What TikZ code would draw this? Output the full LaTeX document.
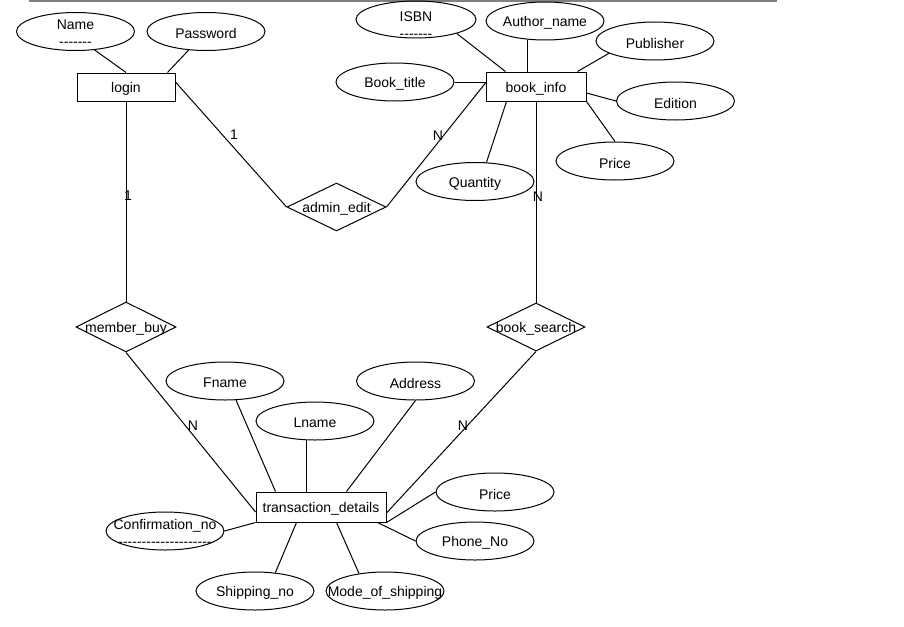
\documentclass[tikz,border=0pt]{standalone}
\usepackage{fontspec}
\setmainfont{Liberation Sans}
\usetikzlibrary{shapes.geometric,calc}
\newcommand\hy{\hbox{-}}
\begin{document}
\begin{tikzpicture}[x=1pt,y=-1pt,
  every node/.style={font=\fontsize{14}{17}\selectfont},
  every label/.style={inner sep=0pt, align=center, yshift=-2pt},
  attrshape/.style={ellipse, draw, line width=1pt, minimum width=118pt, minimum height=38pt, inner sep=0pt},
  attr/.style={attrshape, label={center:{#1}}},
  ent/.style={rectangle, draw, line width=1pt, inner sep=0pt, label={center:{#1}}},
  rel/.style={diamond, draw, line width=1pt, inner sep=0pt, label={center:{#1}}},
  conn/.style={line width=1pt},
  card/.style={inner sep=0pt, yshift=-2pt}]
\fill[white] (0,0) rectangle (904,626);
\useasboundingbox (0,0) rectangle (904,626);
\draw[black!50, line width=2pt] (29,1) -- (777,1);

% entities
\node[ent=login, minimum width=98pt, minimum height=28pt] (login) at (126,87) {};
\node[ent=book\_info, minimum width=100pt, minimum height=29pt] (book) at (536,86.5) {};
\node[ent=transaction\_details, minimum width=130pt, minimum height=30pt] (trans) at (321,507) {};

% relationships
\node[rel=admin\_edit, minimum width=99pt, minimum height=48pt] (admin) at (336.5,207) {};
\node[rel=member\_buy, minimum width=100pt, minimum height=50pt] (mb) at (126,327) {};
\node[rel=book\_search, minimum width=98pt, minimum height=48pt] (search) at (536,327) {};

% attributes
\node[attr={Name\\\hy\hy\hy\hy\hy\hy\hy}] (Name) at (75.5,31.5) {};
\node[attr=Password] (Password) at (206,31.5) {};
\node[attrshape, minimum width=120pt, minimum height=37pt,
      label={[yshift=-4pt]center:{ISBN\\\hy\hy\hy\hy\hy\hy\hy}}] (ISBN) at (416,19.5) {};
\node[attr=Author\_name] (Author) at (545,21) {};
\node[attr=Publisher] (Publisher) at (655,41) {};
\node[attr=Book\_title] (Title) at (395,82) {};
\node[attr=Edition] (Edition) at (675.5,101) {};
\node[attr=Price] (Price1) at (615,161) {};
\node[attr=Quantity] (Quantity) at (475,181.5) {};
\node[attr=Fname] (Fname) at (225,381) {};
\node[attr=Lname] (Lname) at (315,421) {};
\node[attr=Address] (Address) at (415.5,381) {};
\node[attr=Price] (Price2) at (495,492) {};
\node[attr=Phone\_No] (Phone) at (475,541) {};
\node[attr={Confirmation\_no\\\hy\hy\hy\hy\hy\hy\hy\hy\hy\hy\hy\hy\hy\hy\hy\hy\hy\hy\hy\hy}] (Conf) at (165,531) {};
\node[attr=Shipping\_no] (Ship) at (255,591) {};
\node[attr=Mode\_of\_shipping] (Mode) at (385,591) {};

% cardinalities
\node[card] (c1) at (234,133) {1};
\node[card] (c2) at (438,134) {N};
\node[card] (c3) at (128,194) {1};
\node[card] (c4) at (538,195) {N};
\node[card] (c5) at (193,424) {N};
\node[card] (c6) at (463,424) {N};

% relationship connectors
\draw[conn] ($(login.east)+(0,-5)$) -- (admin.west);
\draw[conn] ($(book.west)+(0,-3.5)$) -- (admin.east);
\draw[conn] (login.south) -- (mb.north);
\draw[conn] (book.south) -- (search.north);
\draw[conn] (mb.south) -- ($(trans.west)+(0,5)$);
\draw[conn] (search.south) -- ($(trans.east)+(0,6)$);

% attribute connectors
\draw[conn] (Name.-44) -- (login.north);
\draw[conn] (Password.-133) -- ($(login.north east)+(-8,0)$);
\draw[conn] (ISBN.-19) -- ($(book.north west)+(20,0)$);
\draw[conn] (Author.-133) -- (Author.-133 |- book.north);
\draw[conn] (Publisher.-165) -- ($(book.north east)+(-9,0)$);
\draw[conn] (Title.east) -- (Title.east -| book.west);
\draw[conn] ($(book.east)+(0,6.5)$) -- (Edition.west);
\draw[conn] (book.south east) -- (Price1.north);
\draw[conn] ($(book.south west)+(21,0)$) -- (Quantity.59);
\draw[conn] (Fname.-60) -- ($(trans.north west)+(20,0)$);
\draw[conn] (Lname.-113) -- (Lname.-113 |- trans.north);
\draw[conn] (Address.south) -- ($(trans.north west)+(91,0)$);
\draw[conn] (trans.south east) -- (Price2.west);
\draw[conn] ($(trans.south east)+(-9,0)$) -- (Phone.west);
\draw[conn] (Conf.east) -- (trans.south west);
\draw[conn] (Ship.42) -- ($(trans.south west)+(41,0)$);
\draw[conn] (Mode.146) -- ($(trans.south west)+(81,0)$);
\end{tikzpicture}
\end{document}
